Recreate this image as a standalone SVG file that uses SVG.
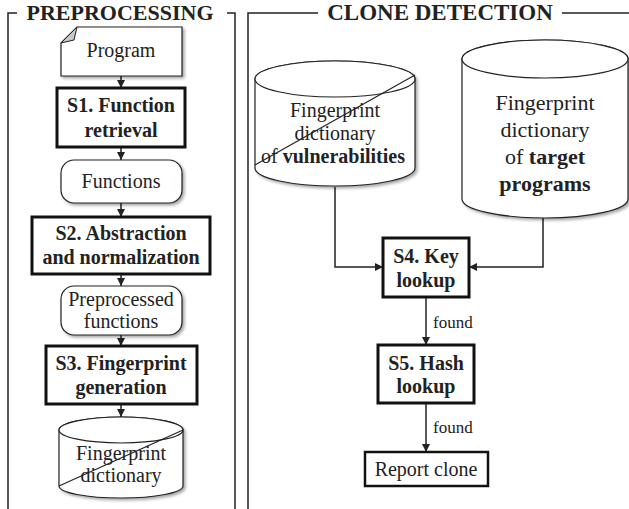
<svg xmlns="http://www.w3.org/2000/svg" width="629" height="509" viewBox="0 0 629 509" font-family="'Liberation Serif', 'Times New Roman', serif">
<style>
text{font-family:"Liberation Serif","Times New Roman",serif;fill:#222;}
.hdr{font-family:"Liberation Serif",serif;font-size:22px;font-weight:bold;}
.t{font-family:"Liberation Serif",serif;font-size:20px;}
.b{font-family:"Liberation Serif",serif;font-size:20px;font-weight:bold;}
.big{font-family:"Liberation Serif",serif;font-size:22px;}
.lbl{font-family:"Liberation Serif",serif;font-size:17px;}
.frame{fill:none;stroke:#222;stroke-width:1.5;}
.soft{fill:#fff;stroke:#222;stroke-width:1.2;}
.thick{fill:#fff;stroke:#111;stroke-width:3;}
.mid{fill:#fff;stroke:#111;stroke-width:2.5;}
.con{fill:none;stroke:#222;stroke-width:1.5;}
</style>
<defs>
<filter id="sh" x="-10%" y="-10%" width="125%" height="130%">
<feDropShadow dx="2" dy="2" stdDeviation="1.5" flood-color="#000" flood-opacity="0.35"/>
</filter>
<marker id="ah" markerUnits="userSpaceOnUse" markerWidth="9" markerHeight="8" refX="8" refY="4" orient="auto">
<path d="M0,0 L8,4 L0,8 Z" fill="#222"/>
</marker>
</defs>

<g id="frames">
<path class="frame" d="M17,13 H8 V509"/>
<path class="frame" d="M227,13 H235 V509"/>
<path class="frame" d="M318,13 H248 V509"/>
<path class="frame" d="M562,13 H629"/>
<text class="hdr" x="120" y="20" text-anchor="middle">PREPROCESSING</text>
<text class="hdr" x="440" y="20" text-anchor="middle" style="font-size:23px">CLONE DETECTION</text>
</g>

<g id="connectors">
<line class="con" x1="121" y1="76" x2="121" y2="88" marker-end="url(#ah)"/>
<line class="con" x1="121" y1="147" x2="121" y2="160" marker-end="url(#ah)"/>
<line class="con" x1="121" y1="203" x2="121" y2="217" marker-end="url(#ah)"/>
<line class="con" x1="121" y1="274" x2="121" y2="286" marker-end="url(#ah)"/>
<line class="con" x1="121" y1="335" x2="121" y2="346" marker-end="url(#ah)"/>
<line class="con" x1="121" y1="404" x2="121" y2="417" marker-end="url(#ah)"/>
<path class="con" d="M335,187 V267 H383" marker-end="url(#ah)"/>
<path class="con" d="M543,218 V267 H469" marker-end="url(#ah)"/>
<line class="con" x1="426" y1="297" x2="426" y2="345" marker-end="url(#ah)"/>
<line class="con" x1="426" y1="403" x2="426" y2="452" marker-end="url(#ah)"/>
<text class="lbl" x="433" y="328">found</text>
<text class="lbl" x="433" y="433">found</text>
</g>

<g id="program">
<path class="soft" filter="url(#sh)" d="M61,43 L77,27 H182 V76 H61 Z"/>
<path d="M61,43 L77,27 L74,40 Z" fill="#c8c8c8" stroke="#222" stroke-width="1"/>
<text class="t" x="121" y="57" text-anchor="middle">Program</text>
</g>

<g id="s1">
<rect class="thick" x="57" y="88" width="128" height="59"/>
<text class="b" x="121" y="112" text-anchor="middle">S1. Function</text>
<text class="b" x="121" y="137" text-anchor="middle">retrieval</text>
</g>

<g id="functions">
<rect class="soft" filter="url(#sh)" x="61" y="160" width="121" height="43" rx="13"/>
<text class="t" x="121" y="188" text-anchor="middle">Functions</text>
</g>

<g id="s2">
<rect class="thick" x="32" y="217" width="178" height="57"/>
<text class="b" x="121" y="240" text-anchor="middle">S2. Abstraction</text>
<text class="b" x="121" y="264" text-anchor="middle">and normalization</text>
</g>

<g id="preprocessed">
<rect class="soft" filter="url(#sh)" x="61" y="286" width="121" height="49" rx="13"/>
<text class="t" x="121" y="306" text-anchor="middle">Preprocessed</text>
<text class="t" x="121" y="328" text-anchor="middle">functions</text>
</g>

<g id="s3">
<rect class="thick" x="46" y="346" width="151" height="58"/>
<text class="b" x="121" y="370" text-anchor="middle">S3. Fingerprint</text>
<text class="b" x="121" y="394" text-anchor="middle">generation</text>
</g>

<g id="dict">
<path class="soft" filter="url(#sh)" d="M59,430 V486 A62,12 0 0 0 183,486 V430 A62,13 0 0 0 59,430 Z"/>
<ellipse class="soft" cx="121" cy="430" rx="62" ry="13"/>
<text class="t" x="121" y="460" text-anchor="middle">Fingerprint</text>
<text class="t" x="121" y="482" text-anchor="middle">dictionary</text>
<line x1="59" y1="486" x2="183" y2="430" stroke="#222" stroke-width="1.2"/>
</g>

<g id="vuln">
<path class="soft" filter="url(#sh)" d="M255,79 V168 A80,18 0 0 0 415,168 V79 A80,18 0 0 0 255,79 Z"/>
<ellipse class="soft" cx="335" cy="79" rx="80" ry="18"/>
<text class="t" x="335" y="117" text-anchor="middle">Fingerprint</text>
<text class="t" x="335" y="140" text-anchor="middle">dictionary</text>
<text class="t" x="333" y="163" text-anchor="middle">of <tspan font-weight="bold">vulnerabilities</tspan></text>
<line x1="255" y1="165" x2="415" y2="75" stroke="#222" stroke-width="1.2"/>
</g>

<g id="target">
<path class="soft" filter="url(#sh)" d="M462,59 V199 A83,19 0 0 0 628,199 V59 A83,19 0 0 0 462,59 Z"/>
<ellipse class="soft" cx="545" cy="59" rx="83" ry="19"/>
<text class="big" x="545" y="110" text-anchor="middle">Fingerprint</text>
<text class="big" x="545" y="137" text-anchor="middle">dictionary</text>
<text class="big" x="545" y="164" text-anchor="middle">of <tspan font-weight="bold">target</tspan></text>
<text class="big" x="545" y="191" text-anchor="middle" font-weight="bold">programs</text>
</g>

<g id="s4">
<rect class="thick" x="383" y="238" width="86" height="59"/>
<text class="b" x="426" y="263" text-anchor="middle">S4. Key</text>
<text class="b" x="426" y="287" text-anchor="middle">lookup</text>
</g>

<g id="s5">
<rect class="thick" x="378" y="345" width="96" height="58"/>
<text class="b" x="426" y="370" text-anchor="middle">S5. Hash</text>
<text class="b" x="426" y="393" text-anchor="middle">lookup</text>
</g>

<g id="report">
<rect class="mid" x="365" y="452" width="123" height="34"/>
<text class="t" x="426" y="476" text-anchor="middle">Report clone</text>
</g>
</svg>
